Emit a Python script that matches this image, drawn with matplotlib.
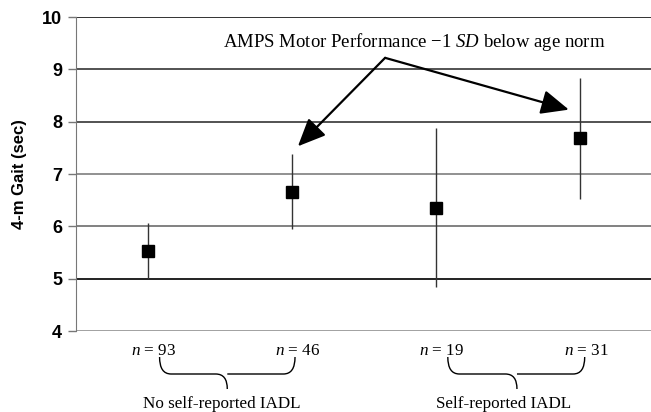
import matplotlib
matplotlib.use("Agg")
import matplotlib.pyplot as plt
from matplotlib.path import Path
from matplotlib.patches import PathPatch
from matplotlib.transforms import blended_transform_factory

# data
positions = [1, 2, 3, 4]
gait_mean = [5.53, 6.65, 6.35, 7.68]
err_low = [5.00, 5.95, 4.84, 6.52]
err_high = [6.06, 7.38, 7.88, 8.83]
n_labels = ["93", "46", "19", "31"]
group_labels = ["No self-reported IADL", "Self-reported IADL"]
y_ticks = [4, 5, 6, 7, 8, 9, 10]

# layout
brace_spans = [(1.08, 2.02, 1.55), (3.08, 4.03, 3.56)]
group_label_x = [1.51, 3.47]
grid_colors = {4: "#9a9a9a", 5: "#111111", 6: "#777777", 7: "#888888",
               8: "#444444", 9: "#444444", 10: "#222222"}

plt.rcParams.update({
    "mathtext.fontset": "custom",
    "mathtext.rm": "Liberation Serif",
    "mathtext.it": "Liberation Serif:italic",
})

fig = plt.figure(figsize=(6.51, 4.12), dpi=100)
ax = fig.add_axes([0.1167, 0.1966, 0.8833, 0.7621])

for yv in y_ticks:
    ax.axhline(yv, color=grid_colors[yv], linewidth=1.3, zorder=1)

yerr = [[m - lo for m, lo in zip(gait_mean, err_low)],
        [hi - m for m, hi in zip(gait_mean, err_high)]]
ax.errorbar(positions, gait_mean, yerr=yerr, fmt="s", color="black",
            ecolor="#333333", elinewidth=1.0, capsize=0, markersize=8.5, zorder=3)

ax.set_xlim(0.5, 4.49)
ax.set_ylim(4, 10)
ax.set_yticks(y_ticks)
ax.set_xticks([])
for side in ["top", "right", "bottom"]:
    ax.spines[side].set_visible(False)
ax.spines["left"].set_color("#777777")
ax.tick_params(axis="y", length=6, color="#777777", width=1.0, pad=4)
for lab in ax.get_yticklabels():
    lab.set_fontfamily("Liberation Sans")
    lab.set_fontweight("bold")
    lab.set_fontsize(13)
ax.set_ylabel("4-m Gait (sec)", fontfamily="Liberation Sans", fontweight="bold",
              fontsize=12, labelpad=11)

# annotation with two arrows
ax.text(2.85, 9.52, "AMPS Motor Performance \u22121 $SD$ below age norm",
        fontfamily="Liberation Serif", fontsize=13.5, ha="center", va="center")
src = (2.645, 9.22)
for tip in [(2.04, 7.53), (3.92, 8.23)]:
    ax.annotate("", xy=tip, xytext=src,
                arrowprops=dict(arrowstyle="-|>,head_length=1.7,head_width=0.75",
                                color="black", linewidth=1.6, shrinkA=0, shrinkB=0))

# n labels and braces below the axis
trans = blended_transform_factory(ax.transData, fig.transFigure)
for x, n in zip(positions, n_labels):
    ax.text(x + 0.04, 1 - 351 / 412, f"$n$ = {n}", transform=trans,
            fontfamily="Liberation Serif", fontsize=12.3, ha="center", va="center")

y_top, y_mid, y_tip = 1 - 357 / 412, 1 - 374 / 412, 1 - 389 / 412
for (x0, x1, xc), label, lx in zip(brace_spans, group_labels, group_label_x):
    r = 0.08
    verts = [(x0, y_top), (x0, y_mid), (x0 + r, y_mid),
             (xc - r, y_mid), (xc, y_mid), (xc, y_tip),
             (xc, y_mid), (xc + r, y_mid),
             (x1 - r, y_mid), (x1, y_mid), (x1, y_top)]
    codes = [Path.MOVETO, Path.CURVE3, Path.CURVE3,
             Path.LINETO, Path.CURVE3, Path.CURVE3,
             Path.MOVETO, Path.LINETO,
             Path.LINETO, Path.CURVE3, Path.CURVE3]
    ax.add_patch(PathPatch(Path(verts, codes), transform=trans, fill=False,
                           edgecolor="black", linewidth=1.0, clip_on=False))
    ax.text(lx, 1 - 404 / 412, label, transform=trans,
            fontfamily="Liberation Serif", fontsize=12.3, ha="center", va="center")

fig.savefig("out.png", dpi=100)
